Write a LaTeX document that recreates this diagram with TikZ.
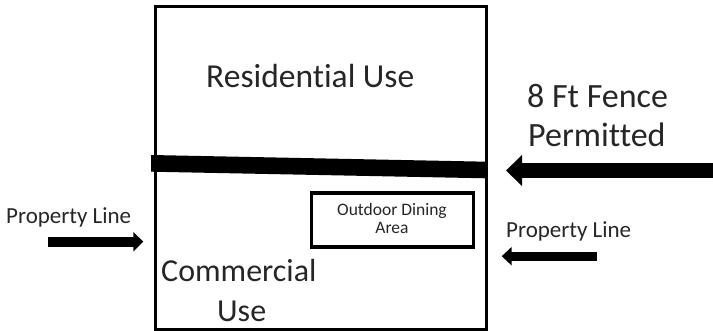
\documentclass[tikz,border=0pt]{standalone}
\usepackage{fontspec}
\setmainfont[Ligatures=NoCommon]{Carlito}
\usetikzlibrary{arrows.meta}
\begin{document}
\begin{tikzpicture}[x=1pt,y=-1pt,
  lbl/.style={anchor=base west,inner sep=0pt,text=black!85},
  bigtxt/.style={lbl,font=\fontsize{33.5}{40}\selectfont},
  midtxt/.style={lbl,font=\fontsize{23}{28}\selectfont},
  smalltxt/.style={anchor=base,inner sep=0pt,text=black!85,font=\fontsize{17.5}{17}\selectfont},
  boxline/.style={draw=black,line width=3pt},
  fatarrow/.style={draw=black,line width=#1}
]
\useasboundingbox (0,0) rectangle (713,331);
% outer property
\node[boxline,minimum width=331pt,minimum height=323pt,inner sep=0pt,anchor=north west] (lot) at (153.5,5.5) {};
% fence band
\fill[black] (151,155) -- (486,161.7) -- (486,178.3) -- (151,171.7) -- cycle;
% outdoor dining box
\node[draw=black,line width=3.5pt,minimum width=162pt,minimum height=54pt,inner sep=0pt] (dining) at (392.5,220) {};
\node[smalltxt] (din1) at (392,216) {Outdoor Dining};
\node[smalltxt] (din2) at (392,233.5) {Area};
% texts
\node[bigtxt] (res) at (206,88) {Residential Use};
\node[bigtxt,font=\fontsize{34}{40}\selectfont] (fence1) at (527,108) {8 Ft Fence};
\node[bigtxt,font=\fontsize{34}{40}\selectfont] (fence2) at (528,147) {Permitted};
\node[bigtxt,font=\fontsize{32}{40}\selectfont] (com1) at (161,282) {Commercial};
\node[bigtxt,font=\fontsize{32}{40}\selectfont] (com2) at (217,322) {Use};
\node[midtxt] (plL) at (6,224) {Property Line};
\node[midtxt] (plR) at (506,238) {Property Line};
% arrows
\coordinate (bigS) at (713,170.5);
\coordinate (bigT) at (506,170.5);
\draw[fatarrow=15.6pt,-{Triangle[length=16pt,width=30pt]}] (bigS) -- (bigT);
\coordinate (lS) at (48.3,241.7);
\coordinate (lT) at (143.3,241.7);
\draw[fatarrow=10pt,-{Triangle[length=10pt,width=19pt]}] (lS) -- (lT);
\coordinate (rS) at (596.7,256.2);
\coordinate (rT) at (501.7,256.2);
\draw[fatarrow=9pt,-{Triangle[length=10pt,width=18pt]}] (rS) -- (rT);
\end{tikzpicture}
\end{document}
